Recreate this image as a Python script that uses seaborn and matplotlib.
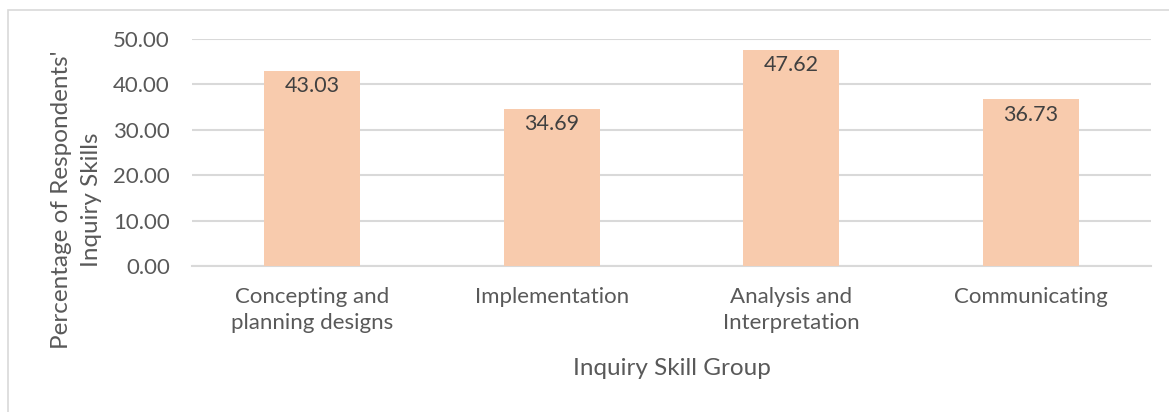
import matplotlib.pyplot as plt
import matplotlib.patches as mpatches
import pandas as pd
import seaborn as sns

categories = [
    "Concepting and\nplanning designs",
    "Implementation",
    "Analysis and\nInterpretation",
    "Communicating",
]
percentages = [43.03, 34.69, 47.62, 36.73]

BAR_COLOR = "#F8CBAD"
TEXT_COLOR = "#595959"
GRID_COLOR = "#D9D9D9"

df = pd.DataFrame({"group": categories, "pct": percentages})

sns.set_theme(style="white")
plt.rcParams["font.family"] = ["Lato", "DejaVu Sans"]

fig = plt.figure(figsize=(11.69, 4.12), dpi=100)
ax = fig.add_axes([192 / 1169, 1 - 266 / 412, 959 / 1169, 227 / 412])

# chart border like an office chart frame
fig.patches.append(
    mpatches.Rectangle(
        (8 / 1169, -0.1), 1.2, 1 - 10 / 412 + 0.1,
        transform=fig.transFigure, fill=False, edgecolor="#D9D9D9", linewidth=1.2,
    )
)

sns.barplot(data=df, x="group", y="pct", color=BAR_COLOR, width=0.4,
            saturation=1, linewidth=0, ax=ax, zorder=3)

for i, v in enumerate(percentages):
    ax.annotate(f"{v:.2f}", xy=(i, v), xytext=(0, -4), textcoords="offset points",
                ha="center", va="top", fontsize=15.5, color="#404040", zorder=4)

ax.set_ylim(0, 50)
ax.set_yticks([0, 10, 20, 30, 40, 50])
ax.set_yticklabels([f"{t:.2f}" for t in [0, 10, 20, 30, 40, 50]])
ax.set_xlim(-0.5, 3.5)
ax.yaxis.grid(True, color=GRID_COLOR, linewidth=1.5, zorder=0)
ax.set_axisbelow(True)
for s in ["top", "right", "left"]:
    ax.spines[s].set_visible(False)
ax.spines["bottom"].set_color(GRID_COLOR)
ax.spines["bottom"].set_linewidth(1.5)

ax.tick_params(axis="y", length=0, pad=16, labelsize=16, labelcolor=TEXT_COLOR)
ax.tick_params(axis="x", length=0, pad=15, labelsize=16, labelcolor=TEXT_COLOR)
for lbl in ax.get_xticklabels():
    lbl.set_linespacing(1.4)
    lbl.set_verticalalignment("top")

ax.set_xlabel("Inquiry Skill Group", fontsize=17.5, color=TEXT_COLOR)
ax.xaxis.set_label_coords(0.5, -0.405)
ax.set_ylabel("Percentage of Respondents'\nInquiry Skills", fontsize=17.5,
              color=TEXT_COLOR, linespacing=1.55)
ax.yaxis.set_label_coords(-0.094, 0.29)

fig.savefig("out.png", dpi=100, facecolor="white")
